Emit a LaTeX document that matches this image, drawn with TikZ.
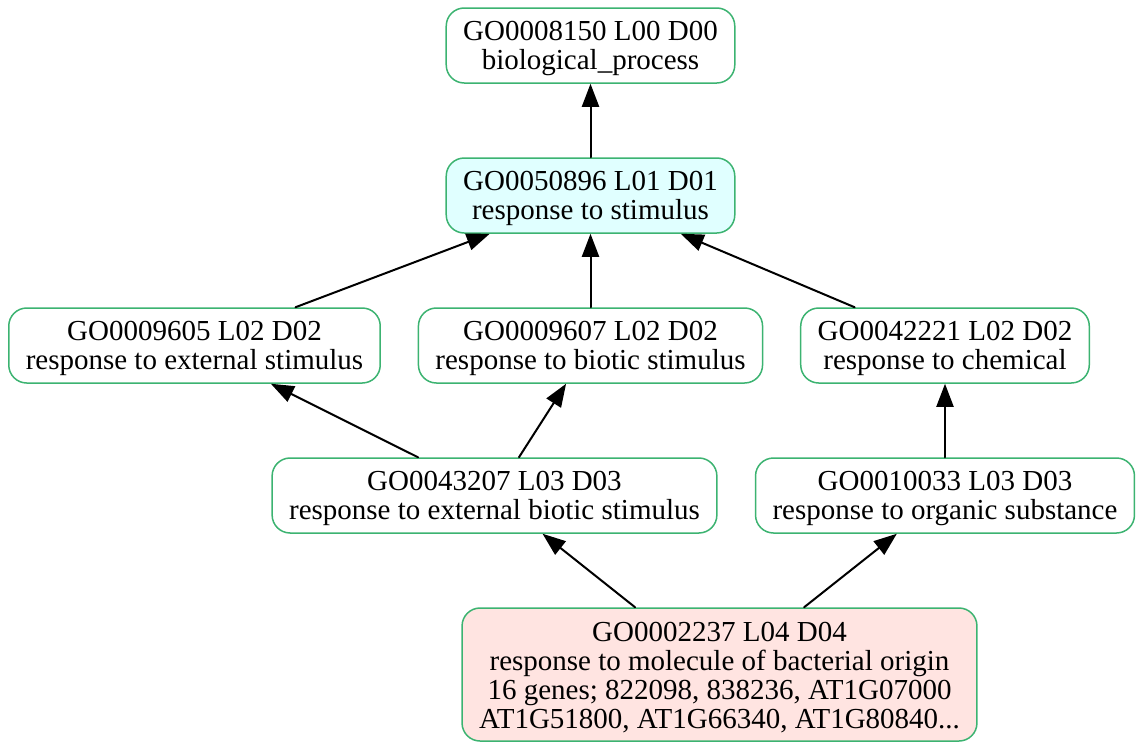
\documentclass[tikz,border=0pt]{standalone}
\usepackage{fontspec}
\setmainfont{Liberation Serif}
\usetikzlibrary{arrows.meta}
\definecolor{goedge}{rgb}{0.235,0.702,0.443}
\definecolor{gocyan}{rgb}{0.878,1,1}
\definecolor{gopink}{rgb}{1,0.894,0.882}
\newcommand{\gostrut}{\rule{0pt}{26pt}}

\begin{document}
\begin{tikzpicture}[line cap=round,line join=round,x=1pt,y=-1pt,
		goterm/.style={draw=goedge,line width=1.5pt,fill=white,rounded corners=18pt,
			align=center,inner xsep=17pt,inner ysep=0pt,minimum height=75pt,
			font=\fontsize{29}{29}\selectfont},
		isa/.style={line width=2pt,-{Triangle[length=23pt,width=17pt]}}]
	\useasboundingbox (0,0) rectangle (1143,750);
		% level 0 and 1
		\node[goterm] (go8150) at (590.5,45.5) {\gostrut GO0008150 L00 D00\\biological\_process};
		\node[goterm,fill=gocyan] (go50896) at (590.5,195.5) {\gostrut GO0050896 L01 D01\\response to stimulus};
		% level 2
		\node[goterm] (go9605) at (194.5,345.5) {\gostrut GO0009605 L02 D02\\response to external stimulus};
		\node[goterm] (go9607) at (590.5,345.5) {\gostrut GO0009607 L02 D02\\response to biotic stimulus};
		\node[goterm] (go42221) at (945,345.5) {\gostrut GO0042221 L02 D02\\response to chemical};
		% level 3
		\node[goterm] (go43207) at (494.5,495.5) {\gostrut GO0043207 L03 D03\\response to external biotic stimulus};
		\node[goterm] (go10033) at (945,495.5) {\gostrut GO0010033 L03 D03\\response to organic substance};
		% level 4
		\node[goterm,fill=gopink,minimum height=133pt] (go2237) at (719.5,674.5)
			{\gostrut GO0002237 L04 D04\\response to molecule of bacterial origin\\16 genes; 822098, 838236, AT1G07000\\AT1G51800, AT1G66340, AT1G80840...};
	\draw[isa] (go50896) -- (go8150);
	\draw[isa] (go9605) -- (go50896);
	\draw[isa] (go9607) -- (go50896);
	\draw[isa] (go42221) -- (go50896);
	\draw[isa] (go43207) -- (go9605);
	\draw[isa] (go43207) -- (go9607);
	\draw[isa] (go10033) -- (go42221);
	\draw[isa] (go2237) -- (go43207);
	\draw[isa] (go2237) -- (go10033);
\end{tikzpicture}
\end{document}
